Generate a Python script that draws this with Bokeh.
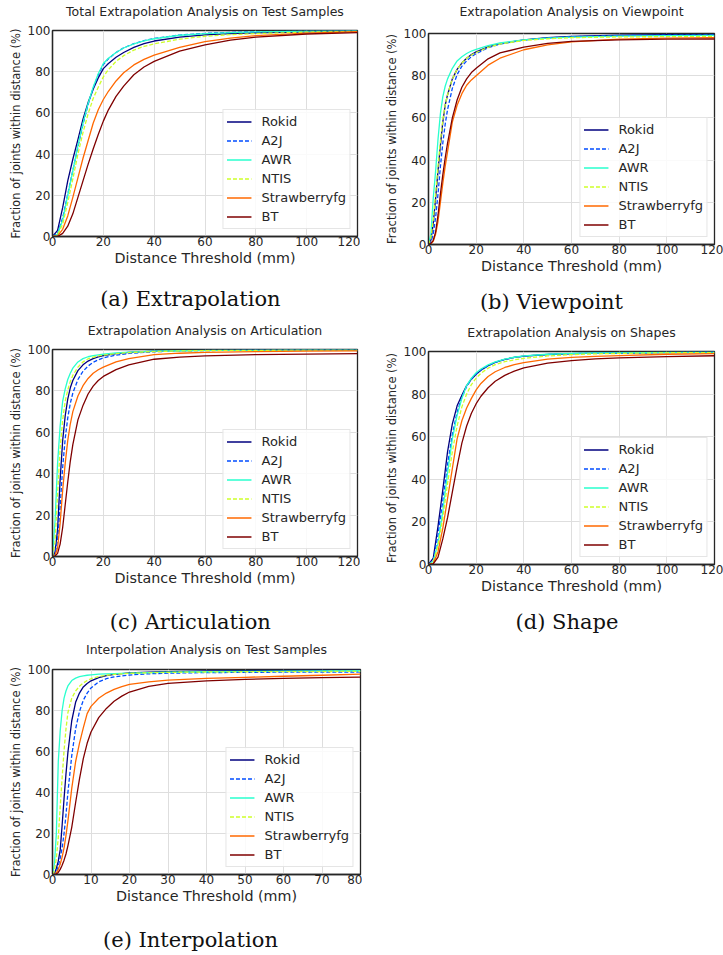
from bokeh.plotting import figure
from bokeh.layouts import row, column
from bokeh.models import Range1d, Legend, LegendItem, LinearAxis, FixedTicker
from bokeh.embed import file_html
from bokeh.resources import INLINE

methods = ["Rokid", "A2J", "AWR", "NTIS", "Strawberryfg", "BT"]
colors = ["#00007f", "#004cff", "#29ffce", "#ceff29", "#ff6800", "#7f0000"]
dashes = ["solid", "4 2", "solid", "4 2", "solid", "solid"]

y_ticks = [0, 20, 40, 60, 80, 100]
x_ticks_120 = [0, 20, 40, 60, 80, 100, 120]
x_ticks_80 = [0, 10, 20, 30, 40, 50, 60, 70, 80]

# (a) Total extrapolation
xa = [0, 2, 4, 6, 8, 10, 12, 14, 16, 18, 20, 22, 25, 28, 32, 36, 40, 50, 60, 70, 80, 100, 120]
a_rokid = [0, 3, 14, 27, 37.5, 47, 57, 65, 71.5, 77, 81.5, 84, 87, 89.3, 91.8, 93.6, 94.9, 96.8, 97.9, 98.5, 98.9, 99.4, 99.7]
a_a2j = [0, 1.5, 9, 20.5, 32, 43.5, 54.5, 64, 72, 78.5, 83.5, 86.3, 89.3, 91.6, 93.6, 95.1, 96.1, 97.8, 98.6, 99.1, 99.4, 99.8, 99.9]
a_awr = [0, 1, 8, 20, 32, 44, 55, 64.5, 72.5, 79, 84, 86.5, 89.3, 91.5, 93.5, 95, 96, 97.7, 98.5, 99, 99.3, 99.7, 99.9]
a_ntis = [0, 0.8, 6, 16.5, 28, 40, 50.5, 59.5, 67, 72.5, 77.5, 81, 85, 87.8, 90.5, 92.3, 93.5, 95.8, 97.2, 98, 98.5, 99.2, 99.6]
a_straw = [0, 0.3, 3.5, 10, 19, 28.5, 38, 46.5, 55, 61.5, 66.5, 70.5, 75.5, 79.5, 83.3, 86, 88, 91.8, 94.6, 96.3, 97.5, 98.7, 99.4]
a_bt = [0, 0, 1.5, 5, 11, 19, 27, 35, 42.5, 49.5, 56, 61.5, 68, 73, 78.5, 82.3, 85, 90, 93, 95.3, 96.8, 98.3, 99]

# (b) Viewpoint
xb = [0, 1, 2, 3, 4, 5, 6, 7, 8, 10, 12, 14, 16, 18, 20, 25, 30, 40, 50, 60, 80, 100, 120]
b_rokid = [0, 2, 10, 22, 35, 47, 58, 66, 71, 78.5, 83, 86, 88.3, 90, 91.3, 93.7, 95.2, 97, 98, 98.6, 99.2, 99.4, 99.5]
b_a2j = [0, 1, 5, 13, 24, 37, 48, 57, 64, 74, 80.5, 84.5, 87, 89, 90.5, 93.2, 95, 96.9, 97.9, 98.5, 99, 99.2, 99.3]
b_awr = [0, 5, 22, 35, 50, 62, 70, 75, 78.5, 83.5, 87, 89, 90.5, 91.7, 92.5, 94.3, 95.5, 97, 97.8, 98.3, 98.8, 99, 99.1]
b_ntis = [0, 3, 12, 24, 37, 49, 59, 66, 71, 78.5, 83, 86, 88.3, 89.8, 91, 93.4, 95, 96.7, 97.5, 98, 98.4, 98.5, 98.6]
b_straw = [0, 0.3, 1.5, 5, 11, 20, 29, 37, 44, 58, 66, 71.5, 75.5, 78, 80, 85, 88.3, 92.3, 94.6, 96, 97.3, 97.8, 98]
b_bt = [0, 0.5, 2, 6, 14, 24, 33, 41, 48, 60, 68.5, 74.5, 78.5, 81.5, 83.5, 88, 90.8, 93.5, 95.3, 96.3, 97, 97.3, 97.4]

# (c) Articulation
xc = [0, 1, 2, 3, 4, 5, 6, 7, 8, 10, 12, 14, 16, 18, 20, 25, 30, 40, 50, 60, 80, 100, 120]
c_rokid = [0, 2, 13, 37, 56, 68, 76, 81.5, 85, 89.8, 92.6, 94.4, 95.6, 96.4, 97, 98, 98.6, 99.2, 99.5, 99.6, 99.8, 99.8, 99.9]
c_a2j = [0, 1, 8, 24, 43, 57, 67, 74, 79, 85.5, 89.5, 92, 93.8, 95, 96, 97.3, 98.1, 98.9, 99.3, 99.5, 99.7, 99.8, 99.8]
c_awr = [0, 17, 45, 63, 75, 81, 85.5, 88.5, 91, 94, 95.6, 96.5, 97, 97.4, 97.7, 98.3, 98.7, 99.2, 99.4, 99.6, 99.7, 99.8, 99.8]
c_ntis = [0, 7, 30, 52, 66, 75, 80.5, 84.5, 87.5, 91.5, 94, 95.5, 96.3, 96.9, 97.3, 98, 98.5, 99, 99.3, 99.5, 99.6, 99.7, 99.7]
c_straw = [0, 0.5, 4, 16, 32, 45, 56, 64, 70, 77.5, 82.5, 86, 88.5, 90.2, 91.5, 94, 95.6, 97.5, 98.2, 98.6, 99, 99.2, 99.3]
c_bt = [0, 0.2, 1.5, 6, 14, 25, 36, 46, 54, 66, 73, 78.5, 82.3, 85, 87, 90.3, 92.6, 95.3, 96.3, 96.9, 97.5, 97.8, 98]

# (d) Shape
xd = [0, 2, 4, 6, 8, 10, 12, 14, 16, 18, 20, 22, 25, 28, 32, 36, 40, 50, 60, 70, 80, 100, 120]
d_rokid = [0, 3, 18, 35, 53, 66, 74.5, 79.5, 84, 87, 89.3, 91.2, 93.3, 94.9, 96.3, 97.2, 97.8, 98.6, 99, 99.2, 99.3, 99.5, 99.6]
d_a2j = [0, 2, 14, 30, 47, 61, 71.5, 78.5, 83.5, 87, 89.5, 91.3, 93.3, 94.9, 96.3, 97.2, 97.8, 98.6, 99, 99.2, 99.4, 99.6, 99.7]
d_awr = [0, 1.5, 10, 25, 43, 59, 70, 78, 84, 87.5, 90, 91.8, 93.7, 95.1, 96.4, 97.3, 97.9, 98.7, 99.1, 99.3, 99.4, 99.6, 99.7]
d_ntis = [0, 1, 9, 22, 38, 53, 65, 74, 80, 84.5, 87.5, 89.8, 92.2, 93.8, 95.2, 96.1, 96.8, 97.9, 98.5, 98.9, 99.1, 99.4, 99.5]
d_straw = [0, 0.5, 6, 17, 31, 45, 59, 67.5, 73.5, 78, 82, 85, 88.3, 90.5, 92.5, 93.8, 94.8, 96.4, 97.2, 97.7, 98.1, 98.7, 99]
d_bt = [0, 0.3, 3.5, 12, 22, 34, 46, 57, 65, 71, 75.5, 79, 83, 86, 88.8, 90.8, 92.3, 94.5, 95.7, 96.5, 97, 97.6, 98]

# (e) Interpolation
xe = [0, 0.5, 1, 1.5, 2, 2.5, 3, 3.5, 4, 5, 6, 7, 8, 9, 10, 12, 14, 16, 18, 20, 25, 30, 40, 50, 60, 70, 80]
e_rokid = [0, 0.5, 3, 6.5, 12, 24, 37, 49, 59.5, 75, 84, 88.5, 91.5, 93.2, 94.5, 96, 97, 97.6, 98, 98.3, 98.7, 99, 99.3, 99.5, 99.6, 99.7, 99.7]
e_a2j = [0, 0.2, 1.5, 4, 8, 13, 20, 29, 40, 58, 71, 79.5, 85, 88.5, 91, 94, 95.5, 96.4, 96.9, 97.3, 97.9, 98.2, 98.5, 98.6, 98.7, 98.7, 98.8]
e_awr = [0, 5, 20, 55, 70, 80, 86, 89.5, 92, 94.6, 95.8, 96.5, 96.9, 97.2, 97.4, 97.7, 97.9, 98, 98.1, 98.2, 98.5, 98.7, 98.9, 99.1, 99.2, 99.3, 99.4]
e_ntis = [0, 1.5, 8, 18, 33, 47, 60.5, 71, 79, 86, 89.5, 91.8, 93.4, 94.6, 95.5, 96.6, 97.2, 97.6, 97.9, 98.1, 98.4, 98.6, 98.8, 98.9, 99, 99, 99.1]
e_straw = [0, 0, 0.8, 2.5, 5, 8.5, 13, 19, 26, 42, 55, 64, 71.5, 78.5, 82, 86, 88.5, 90.3, 91.6, 92.7, 94, 94.8, 95.7, 96.2, 96.7, 97.2, 97.7]
e_bt = [0, 0, 0.3, 1, 2.5, 4.5, 7, 10, 14, 23, 35, 46.5, 56.5, 64, 69.5, 76.5, 81, 84.5, 87, 89, 91.8, 93.2, 94.5, 95.2, 95.7, 96, 96.3]

TXT = "#262626"


def bare_axis(ax):
    ax.axis_line_color = None
    ax.major_tick_out = 0
    ax.major_tick_in = 0
    ax.minor_tick_out = 0
    ax.minor_tick_in = 0


def panel(title, caption, xs, ys_list, xmax, xticks, width, height, bl, br, bt, bb,
          title_gap, cap_pos, cap_gap):
    p = figure(width=width, height=height, x_range=Range1d(0, xmax), y_range=Range1d(0, 100),
               output_backend="svg", toolbar_location=None,
               min_border_left=bl, min_border_right=br, min_border_top=bt, min_border_bottom=bb)
    p.outline_line_color = TXT
    p.outline_line_width = 1.3
    p.outline_line_alpha = 1
    p.background_fill_color = "white"
    p.border_fill_color = "white"

    p.xaxis.ticker = FixedTicker(ticks=xticks)
    p.yaxis.ticker = FixedTicker(ticks=y_ticks)
    p.xaxis.axis_label = "Distance Threshold (mm)"
    p.yaxis.axis_label = "Fraction of joints within distance (%)"
    for ax in (p.xaxis, p.yaxis):
        ax.axis_line_color = TXT
        ax.axis_line_width = 1.3
        ax.major_tick_out = 0
        ax.major_tick_in = 0
        ax.minor_tick_out = 0
        ax.minor_tick_in = 0
        ax.major_label_text_font = "DejaVu Sans"
        ax.major_label_text_font_size = "12px"
        ax.major_label_text_color = TXT
        ax.axis_label_text_font = "DejaVu Sans"
        ax.axis_label_text_font_style = "normal"
        ax.axis_label_text_color = TXT
    p.xaxis.axis_label_text_font_size = "14.3px"
    p.yaxis.axis_label_text_font_size = "11.5px"
    p.xaxis.major_label_standoff = 0
    p.yaxis.major_label_standoff = 2
    p.xaxis.axis_label_standoff = 1
    p.yaxis.axis_label_standoff = 2

    p.xgrid.ticker = FixedTicker(ticks=xticks)
    p.ygrid.ticker = FixedTicker(ticks=y_ticks)
    for g in (p.xgrid, p.ygrid):
        g.grid_line_color = "#dedede"
        g.grid_line_width = 1

    items = []
    for m, c, d, ys in zip(methods, colors, dashes, ys_list):
        r = p.line(xs, ys, line_color=c, line_width=1.3, line_dash=d)
        items.append(LegendItem(label=m, renderers=[r]))
    leg = Legend(items=items, location="bottom_right", margin=7, padding=3, spacing=2,
                 label_height=17, glyph_height=17, glyph_width=25, label_standoff=10,
                 label_text_font="DejaVu Sans", label_text_font_size="13px",
                 label_text_color=TXT, border_line_color="#cccccc", border_line_width=1,
                 background_fill_alpha=0.85)
    p.add_layout(leg, "center")

    # plot title: label of a bare axis above the frame (centred on the frame)
    tax = LinearAxis(ticker=FixedTicker(ticks=[]), axis_label=title,
                     axis_label_standoff=title_gap, axis_label_text_font="DejaVu Sans",
                     axis_label_text_font_size="12.5px", axis_label_text_font_style="normal",
                     axis_label_text_color=TXT)
    bare_axis(tax)
    p.add_layout(tax, "above")

    # sub-figure caption: single tick label of a bare axis below the x axis
    p.extra_x_ranges = {"cap": Range1d(0, 1000)}
    cax = LinearAxis(x_range_name="cap", ticker=FixedTicker(ticks=[cap_pos]),
                     major_label_overrides={cap_pos: caption}, major_label_standoff=cap_gap,
                     major_label_text_font="DejaVu Serif", major_label_text_font_size="21px",
                     major_label_text_color="#111111")
    bare_axis(cax)
    p.add_layout(cax, "below")
    return p


pa = panel("Total Extrapolation Analysis on Test Samples", "(a) Extrapolation", xa,
           [a_rokid, a_a2j, a_awr, a_ntis, a_straw, a_bt], 120, x_ticks_120,
           360, 316, 52, 3, 30, 80, 12, 452, 18)
pb = panel("Extrapolation Analysis on Viewpoint", "(b) Viewpoint", xb,
           [b_rokid, b_a2j, b_awr, b_ntis, b_straw, b_bt], 120, x_ticks_120,
           363, 316, 68, 9, 32, 72, 15, 430, 13)
pc = panel("Extrapolation Analysis on Articulation", "(c) Articulation", xc,
           [c_rokid, c_a2j, c_awr, c_ntis, c_straw, c_bt], 120, x_ticks_120,
           360, 320, 52, 3, 33, 80, 12, 452, 21)
pd_ = panel("Extrapolation Analysis on Shapes", "(d) Shape", xd,
            [d_rokid, d_a2j, d_awr, d_ntis, d_straw, d_bt], 120, x_ticks_120,
            363, 320, 68, 9, 35, 72, 12, 484, 13)
pe = panel("Interpolation Analysis on Test Samples", "(e) Interpolation", xe,
           [e_rokid, e_a2j, e_awr, e_ntis, e_straw, e_bt], 80, x_ticks_80,
           362, 318, 52, 2, 33, 80, 13, 448, 21)

# each figure sits in its own box so that rows do not align the plot frames
layout = column(row(column(pa), column(pb)), row(column(pc), column(pd_)), column(pe))
open("out.html", "w").write(file_html(layout, INLINE))
